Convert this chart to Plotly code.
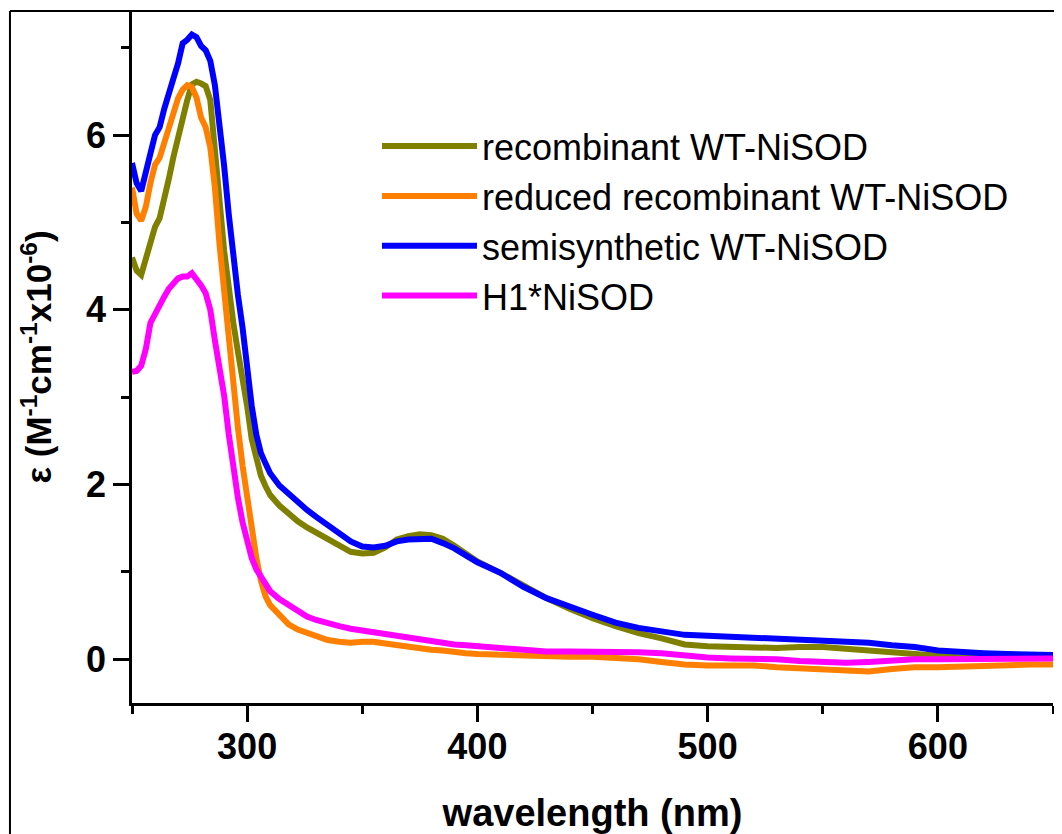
import plotly.graph_objects as go

wavelength = [250, 252, 254, 256, 258, 260, 262, 264, 266, 268, 270, 272, 274, 276, 278,
              280, 282, 284, 286, 288, 290, 292, 294, 296, 298, 300, 302, 304, 306, 308,
              310, 314, 318, 322, 326, 330, 335, 340, 345, 350, 355, 360, 365, 370, 375,
              380, 385, 390, 395, 400, 410, 420, 430, 440, 450, 460, 470, 480, 490, 500,
              510, 520, 530, 540, 550, 560, 570, 580, 590, 600, 610, 620, 630, 640, 650]

recombinant = [4.60, 4.45, 4.40, 4.58, 4.78, 4.95, 5.05, 5.25, 5.50, 5.75, 5.98, 6.20, 6.40, 6.58, 6.61,
               6.59, 6.56, 6.40, 5.90, 5.25, 4.68, 4.22, 3.85, 3.52, 3.25, 2.90, 2.52, 2.27, 2.10, 1.98,
               1.88, 1.76, 1.66, 1.58, 1.51, 1.45, 1.37, 1.29, 1.23, 1.21, 1.22, 1.28, 1.37, 1.41, 1.43,
               1.42, 1.38, 1.30, 1.20, 1.12, 0.99, 0.84, 0.70, 0.58, 0.47, 0.38, 0.30, 0.24, 0.17, 0.15,
               0.14, 0.13, 0.13, 0.14, 0.14, 0.12, 0.10, 0.07, 0.05, 0.03, 0.02, 0.02, 0.02, 0.02, 0.02]

reduced = [5.40, 5.10, 5.02, 5.18, 5.45, 5.66, 5.74, 5.92, 6.12, 6.28, 6.42, 6.52, 6.57, 6.55, 6.43,
           6.20, 6.09, 5.86, 5.40, 4.75, 4.20, 3.75, 3.15, 2.65, 2.22, 1.83, 1.48, 1.16, 0.90, 0.72,
           0.62, 0.50, 0.40, 0.34, 0.30, 0.26, 0.22, 0.20, 0.19, 0.20, 0.20, 0.18, 0.16, 0.14, 0.12,
           0.11, 0.10, 0.08, 0.07, 0.06, 0.05, 0.04, 0.03, 0.03, 0.03, 0.02, 0.00, -0.03, -0.06, -0.07,
           -0.07, -0.07, -0.09, -0.10, -0.12, -0.13, -0.14, -0.11, -0.09, -0.09, -0.08, -0.07, -0.07, -0.06, -0.06]

semisynthetic = [5.68, 5.45, 5.36, 5.55, 5.79, 6.00, 6.09, 6.30, 6.50, 6.65, 6.82, 7.05, 7.09, 7.15, 7.12,
                 7.02, 6.97, 6.85, 6.57, 6.15, 5.65, 5.10, 4.57, 4.17, 3.80, 3.33, 2.90, 2.57, 2.36, 2.24,
                 2.13, 1.99, 1.89, 1.79, 1.71, 1.63, 1.53, 1.44, 1.35, 1.29, 1.28, 1.30, 1.35, 1.37, 1.38,
                 1.38, 1.33, 1.27, 1.19, 1.11, 0.99, 0.83, 0.70, 0.60, 0.51, 0.42, 0.36, 0.32, 0.28, 0.27,
                 0.26, 0.25, 0.24, 0.23, 0.22, 0.21, 0.19, 0.16, 0.14, 0.10, 0.08, 0.07, 0.06, 0.05, 0.05]

h1 = [3.29, 3.30, 3.36, 3.55, 3.85, 3.96, 4.06, 4.15, 4.24, 4.30, 4.36, 4.38, 4.38, 4.42, 4.36,
      4.28, 4.19, 4.00, 3.65, 3.37, 3.02, 2.58, 2.20, 1.85, 1.57, 1.34, 1.16, 1.03, 0.94, 0.85,
      0.78, 0.69, 0.62, 0.55, 0.49, 0.45, 0.41, 0.38, 0.35, 0.33, 0.31, 0.28, 0.26, 0.24, 0.22,
      0.20, 0.19, 0.17, 0.16, 0.15, 0.13, 0.10, 0.09, 0.09, 0.09, 0.09, 0.08, 0.07, 0.04, 0.02,
      0.01, 0.01, 0.00, -0.02, -0.03, -0.04, -0.03, -0.01, 0.00, 0.00, 0.00, 0.00, 0.00, 0.01, 0.01]

series_names = ["recombinant WT-NiSOD", "reduced recombinant WT-NiSOD",
                "semisynthetic WT-NiSOD", "H1*NiSOD"]
series_values = [recombinant, reduced, semisynthetic, h1]
series_colors = ["#808000", "#FF8000", "#0000FF", "#FF00FF"]

x_tick_vals = [300, 400, 500, 600]
y_tick_vals = [0, 2, 4, 6]

FONT = "Liberation Sans, Arial, sans-serif"

fig = go.Figure()
for name, vals, col in zip(series_names, series_values, series_colors):
    fig.add_trace(go.Scatter(x=wavelength, y=vals, mode="lines", name=name,
                             line=dict(color=col, width=6)))

# page body has an 8px default margin, so the figure is 8px smaller than the window
fig.update_layout(
    width=1054, height=826,
    margin=dict(l=124, r=9, t=3, b=131),
    paper_bgcolor="white", plot_bgcolor="white",
    showlegend=True,
    legend=dict(x=0.266, y=0.848, xanchor="left", yanchor="top",
                bgcolor="rgba(0,0,0,0)", borderwidth=0,
                font=dict(family=FONT, size=36, color="black"),
                itemwidth=95, tracegroupgap=0),
)

fig.update_xaxes(
    range=[250, 650], tickvals=x_tick_vals, showgrid=False, zeroline=False,
    automargin=False,
    showline=True, linecolor="black", linewidth=2.5,
    ticks="outside", ticklen=16, tickwidth=2.5, tickcolor="black", ticklabelstandoff=-6,
    tickfont=dict(family=FONT, size=36, color="black", weight="bold"),
    minor=dict(dtick=50, tick0=250, ticks="outside", ticklen=8, tickwidth=2.5, tickcolor="black"),
    title=dict(text="wavelength (nm)", standoff=36,
               font=dict(family=FONT, size=38, color="black", weight="bold")),
)

fig.update_yaxes(
    range=[-0.5, 7.42], tickvals=y_tick_vals, showgrid=False, zeroline=False,
    automargin=False,
    showline=True, linecolor="black", linewidth=2.5,
    ticks="outside", ticklen=16, tickwidth=2.5, tickcolor="black",
    tickfont=dict(family=FONT, size=36, color="black", weight="bold"),
    minor=dict(dtick=1, tick0=0, ticks="outside", ticklen=8, tickwidth=2.5, tickcolor="black"),
    title=dict(text="ε (M<sup>-1</sup>cm<sup>-1</sup>x10<sup>-6</sup>)", standoff=24,
               font=dict(family=FONT, size=35, color="black", weight="bold")),
)

# outer frame (cropped rectangle)
fig.add_shape(type="line", xref="paper", yref="paper", x0=-0.1325, x1=1.02, y0=1, y1=1,
              line=dict(color="black", width=2))
fig.add_shape(type="line", xref="paper", yref="paper", x0=-0.1325, x1=-0.1325, y0=1, y1=-0.2,
              line=dict(color="black", width=2))

fig.write_html("out.html")
